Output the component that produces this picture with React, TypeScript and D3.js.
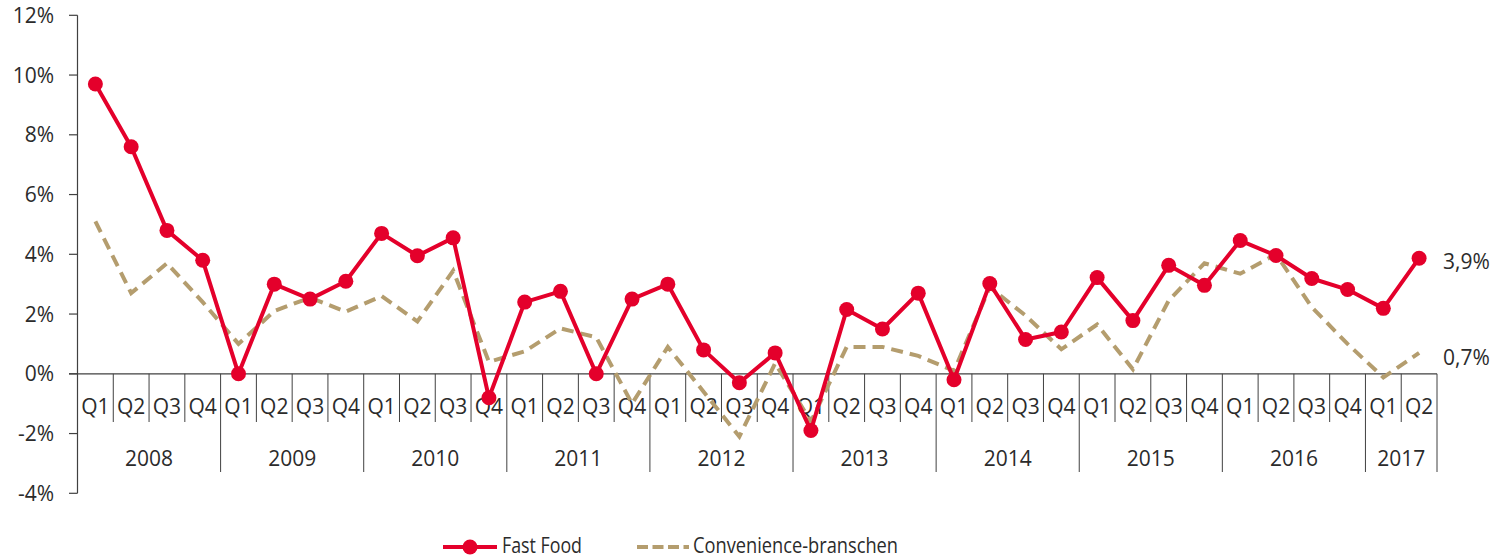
import React from "react";
import * as d3 from "d3";

const years = ["2008", "2009", "2010", "2011", "2012", "2013", "2014", "2015", "2016", "2017"];
const quartersPerYear = [4, 4, 4, 4, 4, 4, 4, 4, 4, 2];
const quarterNames = ["Q1", "Q2", "Q3", "Q4"];

const fastFood = [
  9.7, 7.6, 4.8, 3.8,
  0.0, 3.0, 2.5, 3.1,
  4.7, 3.95, 4.55, -0.8,
  2.4, 2.76, 0.0, 2.5,
  3.0, 0.8, -0.3, 0.7,
  -1.9, 2.15, 1.5, 2.7,
  -0.2, 3.02, 1.15, 1.4,
  3.22, 1.78, 3.63, 2.96,
  4.46, 3.96, 3.19, 2.82,
  2.19, 3.87,
];

const convenience = [
  5.1, 2.7, 3.7, 2.4,
  1.0, 2.1, 2.55, 2.08,
  2.6, 1.75, 3.45, 0.4,
  0.75, 1.52, 1.22, -1.0,
  0.9, -0.6, -2.1, 0.35,
  -1.6, 0.9, 0.9, 0.6,
  0.1, 2.9, 1.95, 0.82,
  1.65, 0.15, 2.45, 3.7,
  3.35, 4.0, 2.23, 1.0,
  -0.12, 0.7,
];

const yTicks = [-4, -2, 0, 2, 4, 6, 8, 10, 12];
const endLabels = ["3,9%", "0,7%"];
const seriesNames = ["Fast Food", "Convenience-branschen"];

const RED = "#e4002b";
const TAN = "#b49d6e";
const TEXT = "#2b2b2b";
const AXIS = "#404040";
const FONT = "'Open Sans', 'DejaVu Sans', sans-serif";

export default function App() {
  const W = 1503;
  const H = 559;
  const left = 77.5;
  const right = 1437;
  const yTop = 15.3;
  const yBottom = 493.3;

  const cats: { year: string; q: string; key: string }[] = [];
  years.forEach((y, i) => {
    for (let k = 0; k < quartersPerYear[i]; k++) {
      cats.push({ year: y, q: quarterNames[k], key: `${y}-${quarterNames[k]}` });
    }
  });

  const x = d3.scaleBand<string>().domain(cats.map((c) => c.key)).range([left, right]).padding(0);
  const y = d3.scaleLinear().domain([-4, 12]).range([yBottom, yTop]);
  const bw = x.bandwidth();
  const cx = (i: number) => (x(cats[i].key) as number) + bw / 2;
  const y0 = y(0);

  const line = d3
    .line<number>()
    .x((_, i) => cx(i))
    .y((d) => y(d));

  const yearStarts: number[] = [];
  let idx = 0;
  years.forEach((yy, i) => {
    yearStarts.push(idx);
    idx += quartersPerYear[i];
  });

  const lastI = fastFood.length - 1;

  return (
    <svg
      width={W}
      height={H}
      style={{ position: "absolute", left: 0, top: 0, display: "block", background: "#fff" }}
      fontFamily={FONT}
    >
      {/* Y axis */}
      <line x1={left} x2={left} y1={yTop} y2={yBottom} stroke={AXIS} strokeWidth={1.2} />
      {yTicks.map((t) => (
        <g key={t}>
          <line x1={69} x2={left} y1={y(t)} y2={y(t)} stroke={AXIS} strokeWidth={1.2} />
          <text x={54} y={y(t) + 7.5} textAnchor="end" fontSize={21} fill={TEXT}>
            {`${t}%`}
          </text>
        </g>
      ))}

      {/* X axis baseline */}
      <line x1={69} x2={right} y1={y0} y2={y0} stroke={AXIS} strokeWidth={1.2} />

      {/* quarter separators */}
      {cats.map((c, i) => {
        const xs = x(c.key) as number;
        const isYear = yearStarts.includes(i);
        if (i === 0) return null;
        return (
          <line
            key={c.key}
            x1={xs}
            x2={xs}
            y1={y0}
            y2={isYear ? 472 : 422}
            stroke={AXIS}
            strokeWidth={1}
          />
        );
      })}
      <line x1={right} x2={right} y1={y0} y2={472} stroke={AXIS} strokeWidth={1} />

      {/* quarter labels */}
      {cats.map((c, i) => (
        <text key={"q" + c.key} x={cx(i)} y={414} textAnchor="middle" fontSize={21} fill={TEXT}>
          {c.q}
        </text>
      ))}

      {/* year labels */}
      {years.map((yy, i) => {
        const s = x(cats[yearStarts[i]].key) as number;
        const e = s + quartersPerYear[i] * bw;
        return (
          <text key={yy} x={(s + e) / 2} y={466} textAnchor="middle" fontSize={21} fill={TEXT}>
            {yy}
          </text>
        );
      })}

      {/* Convenience dashed */}
      <path
        d={line(convenience) || ""}
        fill="none"
        stroke={TAN}
        strokeWidth={4}
        strokeDasharray="12,7"
      />

      {/* Fast Food */}
      <path d={line(fastFood) || ""} fill="none" stroke={RED} strokeWidth={4} strokeLinejoin="round" />
      {fastFood.map((v, i) => (
        <circle key={i} cx={cx(i)} cy={y(v)} r={7.5} fill={RED} />
      ))}

      {/* End labels */}
      <text x={1443} y={y(fastFood[lastI]) + 11} fontSize={21} fill={TEXT}>
        {endLabels[0]}
      </text>
      <text x={1443} y={y(convenience[lastI]) + 12} fontSize={21} fill={TEXT}>
        {endLabels[1]}
      </text>

      {/* Legend */}
      <g>
        <line x1={443} x2={497} y1={547} y2={547} stroke={RED} strokeWidth={4} />
        <circle cx={470} cy={547} r={7.5} fill={RED} />
        <text
          x={502}
          y={553}
          fontSize={22}
          fill={TEXT}
          textLength={80}
          lengthAdjust="spacingAndGlyphs"
        >
          {seriesNames[0]}
        </text>
        <line
          x1={637}
          x2={689}
          y1={547}
          y2={547}
          stroke={TAN}
          strokeWidth={4}
          strokeDasharray="11,4.5"
        />
        <text
          x={693}
          y={553}
          fontSize={22}
          fill={TEXT}
          textLength={205}
          lengthAdjust="spacingAndGlyphs"
        >
          {seriesNames[1]}
        </text>
      </g>
    </svg>
  );
}
